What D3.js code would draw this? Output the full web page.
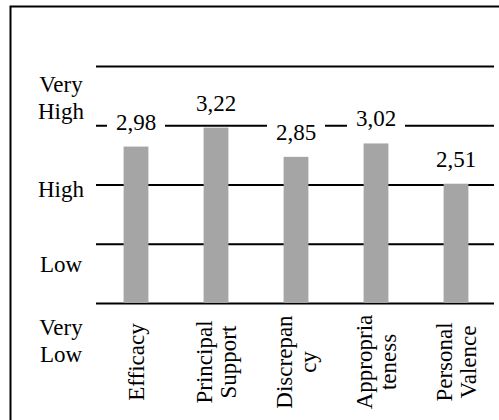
<!DOCTYPE html>
<html>
<head>
<meta charset="utf-8">
<script src="https://d3js.org/d3.v7.min.js"></script>
<style>
  body { margin: 0; background: #fff; }
</style>
</head>
<body>
<div id="chart"></div>
<script>
// categories (line breaks as in the original)
var categories = [["Efficacy"], ["Principal", "Support"], ["Discrepan", "cy"], ["Appropria", "teness"], ["Personal", "Valence"]];
var values = [2.98, 3.22, 2.85, 3.02, 2.51];
var gridValues = [1, 1.75, 2.5, 3.25, 4];
var levelLabels = [["Very", "Low"], ["Low"], ["High"], ["Very", "High"]];
var levelAt = [0.52, 1.5, 2.45, 3.6];

var w = 499, h = 420;
var fs = 23;

var svg = d3.select("#chart")
  .append("svg")
  .attr("width", w)
  .attr("height", h)
  .attr("font-family", "'Liberation Serif', 'Times New Roman', serif");

// frame
svg.append("rect")
  .attr("x", 10.5)
  .attr("y", 6.5)
  .attr("width", 510)
  .attr("height", 430)
  .attr("fill", "none")
  .attr("stroke", "#000")
  .attr("stroke-width", 2);

var x = d3.scaleBand()
  .domain(d3.range(values.length))
  .range([96, 496])
  .paddingInner(0.69)
  .paddingOuter(0.345);

var y = d3.scaleLinear()
  .domain([1, 4])
  .range([303, 66]);

// gridlines
svg.append("g")
  .attr("transform", "translate(96,0)")
  .call(d3.axisLeft(y).tickValues(gridValues).tickSize(-398).tickFormat(""))
  .call(function(g) {
    g.select(".domain").remove();
    g.selectAll("line").attr("stroke", "#000").attr("stroke-width", 2);
  });

// bars
svg.selectAll("rect.bar")
  .data(values)
  .enter()
  .append("rect")
  .attr("class", "bar")
  .attr("x", function(d, i) { return x(i); })
  .attr("y", function(d) { return y(d); })
  .attr("width", x.bandwidth())
  .attr("height", function(d) { return y(1) - y(d); })
  .attr("fill", "#a5a5a5");

// value labels with white box behind them
var fmt = function(d) { return d3.format(".2f")(d).replace(".", ","); };
var lab = svg.selectAll("g.val")
  .data(values)
  .enter()
  .append("g")
  .attr("class", "val")
  .attr("transform", function(d, i) {
    return "translate(" + (x(i) + x.bandwidth() / 2) + "," + (y(d) - 17) + ")";
  });
lab.append("rect")
  .attr("x", -29)
  .attr("y", -17)
  .attr("width", 58)
  .attr("height", 22)
  .attr("fill", "#fff");
lab.append("text")
  .attr("text-anchor", "middle")
  .attr("font-size", fs + "px")
  .text(fmt);

// level labels on the left
levelLabels.forEach(function(lines, k) {
  var cy = y(levelAt[k]);
  var t = svg.append("text")
    .attr("text-anchor", "middle")
    .attr("font-size", fs + "px");
  lines.forEach(function(s, j) {
    t.append("tspan")
      .attr("x", 61)
      .attr("y", cy + (j - (lines.length - 1) / 2) * 27)
      .attr("dy", "0.35em")
      .text(s);
  });
});

// category labels, rotated
categories.forEach(function(lines, i) {
  var cx = x(i) + x.bandwidth() / 2;
  var t = svg.append("text")
    .attr("text-anchor", "middle")
    .attr("font-size", fs + "px")
    .attr("transform", "translate(" + cx + ",362) rotate(-90)");
  lines.forEach(function(s, j) {
    t.append("tspan")
      .attr("x", 0)
      .attr("y", (j - (lines.length - 1) / 2) * 24)
      .attr("dy", "0.35em")
      .text(s);
  });
});
</script>
</body>
</html>
